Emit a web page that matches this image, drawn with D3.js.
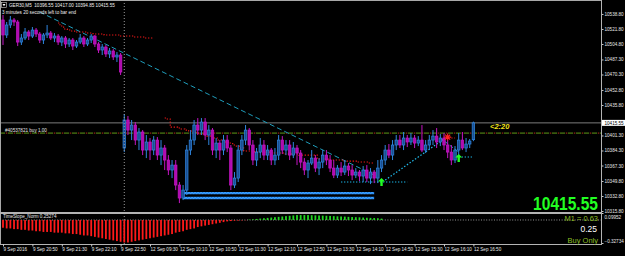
<!DOCTYPE html>
<html>
<head>
<meta charset="utf-8">
<script src="https://cdn.jsdelivr.net/npm/d3@7"></script>
<style>
  html, body { margin: 0; padding: 0; background: #000; }
  svg { display: block; font-family: "Liberation Sans", Arial, sans-serif; }
</style>
</head>
<body>
<svg id="chart" width="625" height="256"></svg>
<script>
// GER30 M5 - candles, stops, trend lines and a slope histogram below
const titleText = "GER30,M5  10396.55 10417.00 10394.85 10415.55";
const timerText = "3 minutes 20 seconds left to bar end";
const indicatorName = "TimeSlope_Norm 0.25274";
const orderLabel = "#40537821 buy 1.00";

// [open, high, low, close]
const bars = [
  [10532.0,10537.6,10503.7,10515.0],[10515.0,10529.7,10511.6,10526.3],[10526.3,10536.5,10522.9,10532.0],
  [10532.0,10534.2,10525.2,10529.7],[10529.7,10532.0,10502.5,10507.0],[10507.0,10516.1,10503.7,10511.6],
  [10511.6,10522.9,10509.3,10518.4],[10518.4,10520.6,10509.3,10513.8],[10513.8,10524.0,10511.6,10520.6],
  [10520.6,10522.9,10512.7,10516.1],[10516.1,10518.4,10505.9,10509.3],[10509.3,10517.2,10504.8,10515.0],
  [10515.0,10526.3,10511.6,10517.2],[10517.2,10519.5,10509.3,10511.6],[10511.6,10517.2,10507.0,10513.8],
  [10513.8,10516.1,10503.7,10507.0],[10507.0,10513.8,10502.5,10511.6],[10511.6,10513.8,10500.3,10504.8],
  [10504.8,10511.6,10501.4,10509.3],[10509.3,10511.6,10498.0,10502.5],[10502.5,10509.3,10500.3,10507.0],
  [10507.0,10516.1,10504.8,10511.6],[10511.6,10513.8,10501.4,10504.8],[10504.8,10511.6,10502.5,10509.3],
  [10509.3,10516.1,10505.9,10513.8],[10513.8,10515.0,10501.4,10504.8],[10504.8,10507.0,10494.6,10498.0],
  [10498.0,10504.8,10492.3,10501.4],[10501.4,10503.7,10490.1,10493.5],[10493.5,10500.3,10488.9,10496.9],
  [10496.9,10499.1,10486.7,10490.1],[10490.1,10495.7,10484.4,10492.3],[10492.3,10494.6,10469.7,10473.1],
  [10387.1,10425.6,10382.5,10418.8],[10418.8,10423.3,10401.8,10407.4],[10407.4,10418.8,10396.1,10413.1],
  [10413.1,10416.5,10390.5,10396.1],[10396.1,10409.7,10384.8,10405.2],[10405.2,10407.4,10379.1,10384.8],
  [10384.8,10401.8,10375.7,10393.9],[10393.9,10398.4,10373.5,10384.8],[10384.8,10400.6,10379.1,10396.1],
  [10396.1,10399.5,10373.5,10379.1],[10379.1,10396.1,10367.8,10387.1],[10387.1,10390.5,10362.2,10373.5],
  [10373.5,10379.1,10356.5,10362.2],[10362.2,10373.5,10353.1,10367.8],[10367.8,10373.5,10339.5,10345.2],
  [10345.2,10348.6,10324.8,10330.5],[10330.5,10345.2,10328.2,10339.5],[10339.5,10390.5,10333.9,10384.8],
  [10384.8,10407.4,10379.1,10396.1],[10396.1,10418.8,10390.5,10413.1],[10413.1,10421.0,10401.8,10407.4],
  [10407.4,10421.0,10401.8,10416.5],[10416.5,10421.0,10396.1,10401.8],[10401.8,10413.1,10390.5,10407.4],
  [10407.4,10409.7,10379.1,10384.8],[10384.8,10398.4,10375.7,10392.7],[10392.7,10396.1,10373.5,10384.8],
  [10384.8,10401.8,10379.1,10396.1],[10396.1,10401.8,10382.5,10387.1],[10387.1,10390.5,10339.5,10345.2],
  [10345.2,10359.9,10341.8,10353.1],[10353.1,10390.5,10348.6,10384.8],[10384.8,10401.8,10379.1,10396.1],
  [10396.1,10413.1,10390.5,10407.4],[10407.4,10409.7,10384.8,10390.5],[10390.5,10396.1,10367.8,10373.5],
  [10373.5,10387.1,10366.7,10382.5],[10382.5,10398.4,10375.7,10390.5],[10390.5,10396.1,10373.5,10379.1],
  [10379.1,10390.5,10373.5,10384.8],[10384.8,10387.1,10367.8,10373.5],[10373.5,10387.1,10367.8,10379.1],
  [10379.1,10401.8,10373.5,10396.1],[10396.1,10400.6,10380.3,10384.8],[10384.8,10396.1,10379.1,10390.5],
  [10390.5,10396.1,10373.5,10379.1],[10379.1,10393.9,10375.7,10387.1],[10387.1,10390.5,10367.8,10381.4],
  [10381.4,10384.8,10364.4,10371.2],[10371.2,10375.7,10356.5,10362.2],[10362.2,10373.5,10353.1,10370.1],
  [10370.1,10384.8,10367.8,10375.7],[10375.7,10379.1,10359.9,10364.4],[10364.4,10375.7,10356.5,10371.2],
  [10371.2,10384.8,10364.4,10379.1],[10379.1,10384.8,10367.8,10373.5],[10373.5,10379.1,10359.9,10364.4],
  [10364.4,10373.5,10353.1,10356.5],[10356.5,10367.8,10353.1,10364.4],[10364.4,10371.2,10355.4,10359.9],
  [10359.9,10373.5,10356.5,10366.7],[10366.7,10370.1,10355.4,10362.2],[10362.2,10367.8,10350.8,10356.5],
  [10356.5,10364.4,10353.1,10359.9],[10359.9,10362.2,10349.7,10355.4],[10355.4,10366.7,10348.6,10362.2],
  [10362.2,10367.8,10348.6,10353.1],[10353.1,10364.4,10346.3,10359.9],[10359.9,10362.2,10347.4,10353.1],
  [10353.1,10373.5,10347.4,10364.4],[10364.4,10379.1,10359.9,10373.5],[10373.5,10390.5,10367.8,10384.8],
  [10384.8,10391.6,10375.7,10379.1],[10379.1,10396.1,10373.5,10390.5],[10390.5,10401.8,10384.8,10396.1],
  [10396.1,10401.8,10387.1,10390.5],[10390.5,10405.2,10384.8,10398.4],[10398.4,10401.8,10388.2,10393.9],
  [10393.9,10404.0,10390.5,10398.4],[10398.4,10401.8,10387.1,10392.7],[10392.7,10400.6,10389.3,10396.1],
  [10396.1,10413.1,10382.5,10384.8],[10384.8,10396.1,10381.4,10390.5],[10390.5,10401.8,10384.8,10396.1],
  [10396.1,10407.4,10390.5,10400.6],[10400.6,10409.7,10387.1,10393.9],[10393.9,10402.9,10389.3,10398.4],
  [10398.4,10404.0,10384.8,10390.5],[10390.5,10396.1,10375.7,10382.5],[10382.5,10390.5,10367.8,10373.5],
  [10373.5,10389.3,10370.1,10384.8],[10384.8,10404.0,10375.7,10396.1],[10396.1,10405.2,10384.8,10387.1],
  [10387.1,10398.4,10382.5,10391.6],[10391.6,10397.3,10387.1,10395.0],[10396.55,10417.00,10394.85,10415.55]
];

const timeLabels = ["9 Sep 2016","9 Sep 20:50","9 Sep 21:30","9 Sep 22:10","9 Sep 22:50",
  "12 Sep 09:30","12 Sep 10:10","12 Sep 10:50","12 Sep 11:30","12 Sep 12:10","12 Sep 12:50",
  "12 Sep 13:30","12 Sep 14:10","12 Sep 14:50","12 Sep 15:30","12 Sep 16:10","12 Sep 16:50"];
const timeLabelBars = [0,8,16,24,32,40,48,56,64,72,80,88,96,104,112,120,128];
const daySeparatorBar = 33;

// 10418.80 sits under the bid label box and is not visible
const priceTicks = [10538.80,10521.80,10504.80,10487.30,10470.30,10452.80,10435.80,
  10401.30,10384.30,10367.30,10349.80,10332.80,10315.80];
const bidPrice = 10415.55;
const orderPrice = 10404.0;

// trailing stops: first bar + one value per bar
const redStopUpper = { start: 15, values: [10528.6,10525.2,10521.8,10520.6,10519.5,10518.4,10518.4,10518.4,
  10517.2,10517.2,10516.1,10516.1,10516.1,10515.0,10515.0,10515.0,10515.0,10513.8,10513.8,10513.8,10513.8,
  10512.7,10512.7,10512.7,10511.6,10511.6,10511.6] };
const redStopLower = { start: 44, values: [10421.0,10419.9,10410.8,10410.8,10409.7,10408.6,10407.4,10406.3,
  10405.2,10404.0,10402.9,10401.8,10400.6,10399.5,10398.4,10396.1,10395.0,10393.9,10392.7,10390.5,10389.3,
  10387.1,10383.7,10383.7,10383.7,10382.5,10382.5,10382.5,10382.5,10381.4,10381.4,10381.4,10381.4,
  10380.3,10380.3,10380.3,10380.3,10379.1,10379.1,10379.1,10379.1,10379.1,10374.6,10374.6,10374.6,
  10373.5,10373.5,10373.5,10373.5,10372.3,10372.3,10372.3,10372.3,10371.2,10371.2,10371.2,10370.1,10370.1] };
const redStopTail = { start: 122, values: [10398.4,10398.4] };
const blueStopA = { start: 92, values: [10348.6,10348.6,10348.6,10348.6,10348.6,10348.6,10348.6,10348.6,
  10348.6,10348.6,10348.6,10348.6,10348.6,10348.6,10348.6,10348.6,10348.6,10348.6,10348.6] };
const blueStopB = { start: 124, values: [10376.9,10376.9,10376.9,10376.9,10376.9] };

// trend lines: [[bar, price], [bar, price]]
const longTrend = [[10, 10541.0], [101, 10356.5]];
const riseTrend = [[104, 10350.8], [120, 10397.3]];
const dropTrend = [[119, 10398.4], [124, 10382.5]];
const supportLevels = [10336.1, 10330.5];
const supportBars = [49, 101];

const buyArrows = [[103, 10348.6], [124, 10375.7]];
const crossMarks = [[121, 10399.5]];

const slopeValues = [
  -0.11,-0.12,-0.12,-0.13,-0.13,-0.14,-0.14,-0.15,-0.15,-0.16,
  -0.16,-0.17,-0.17,-0.17,-0.18,-0.18,-0.18,-0.19,-0.19,-0.20,
  -0.20,-0.21,-0.22,-0.22,-0.23,-0.24,-0.25,-0.26,-0.27,-0.28,
  -0.29,-0.30,-0.31,-0.32,-0.32,-0.31,-0.30,-0.29,-0.28,-0.27,
  -0.26,-0.25,-0.24,-0.23,-0.22,-0.21,-0.20,-0.18,-0.17,-0.16,
  -0.14,-0.13,-0.12,-0.10,-0.09,-0.08,-0.07,-0.06,-0.05,-0.04,
  -0.03,-0.02,-0.015,-0.01,-0.008,-0.005,-0.003,0,0,0,
  0,0,0,0,0,0,0,0,0,0,
  0,0,0,0,0,0,0,0.005,0.01,0.015,
  0.02,0.025,0.03,0.035,0.04,0.045,0.05,0.055,0.06,0.065,
  0.07,0.07,0.07,0.07,0.068,0.066,0.064,0.062,0.06,0.058,
  0.055,0.052,0.05,0.048,0.045,0.042,0.04,0.038,0.035,0.032,
  0.03,0.028,0.025,0.02,0,0,0,0,0
];
const slopeTicks = [0.09952, -0.32734];

const bigPrice = "10415.55";
const m1Text = "M1 = 0.63";
const slopeText = "0.25";
const modeText = "Buy Only";
const countdown = "<2:20";

const svg = d3.select("#chart");
const W = 625, H = 256;
const plotRight = 601, mainBottom = 212, indTopY = 213, indBottom = 243, axisY = 244;

const x = d3.scaleLinear().domain([0, 128]).range([3, 473.4]);
const y = d3.scaleLinear().domain([10314.7, 10554.6]).range([mainBottom, 0]);
const yi = d3.scaleLinear().domain([-0.32734, 0.09952]).range([indBottom, indTopY]);

svg.append("rect").attr("width", W).attr("height", H).attr("fill", "#000");

const defs = svg.append("defs");
defs.append("clipPath").attr("id", "mainClip")
  .append("rect").attr("x", 0).attr("y", 0).attr("width", plotRight).attr("height", mainBottom);

const main = svg.append("g").attr("clip-path", "url(#mainClip)");

// period separator
svg.append("line")
  .attr("x1", x(daySeparatorBar)).attr("x2", x(daySeparatorBar))
  .attr("y1", 0).attr("y2", axisY)
  .attr("stroke", "#9a9a9a").attr("stroke-dasharray", "1,2");

// bid line and order line
main.append("line").attr("x1", 0).attr("x2", plotRight)
  .attr("y1", y(bidPrice)).attr("y2", y(bidPrice))
  .attr("stroke", "#7c7c7c");
main.append("line").attr("x1", 0).attr("x2", plotRight)
  .attr("y1", y(orderPrice)).attr("y2", y(orderPrice))
  .attr("stroke", "#5f9a18").attr("stroke-dasharray", "5,3");
main.append("line").attr("x1", 0).attr("x2", plotRight)
  .attr("y1", y(orderPrice)).attr("y2", y(orderPrice))
  .attr("stroke", "#b8301c").attr("stroke-dasharray", "1.5,6.5").attr("stroke-dashoffset", -5.8);
main.append("text").attr("x", 5).attr("y", y(orderPrice) - 1.2)
  .attr("fill", "#e6e6e6").attr("font-size", 4.6).text(orderLabel);

// trend lines
const trendLine = d3.line().x(d => x(d[0])).y(d => y(d[1]));
main.append("path").attr("d", trendLine(longTrend))
  .attr("fill", "none").attr("stroke", "#1f9dbb").attr("stroke-dasharray", "5,3");
main.append("path").attr("d", trendLine(riseTrend))
  .attr("fill", "none").attr("stroke", "#20b8e8").attr("stroke-width", 1.2).attr("stroke-dasharray", "1.5,1.8");
main.append("path").attr("d", trendLine(dropTrend))
  .attr("fill", "none").attr("stroke", "#1f9dbb").attr("stroke-dasharray", "4,2");

// support zig-zag bands
supportLevels.forEach(p => {
  const yy = y(p), x0 = x(supportBars[0]), x1 = x(supportBars[1]);
  const pts = [];
  for (let xx = x0, k = 0; xx <= x1; xx += 1.5, k++) pts.push([xx, yy + (k % 2 ? 1 : -1)]);
  main.append("line").attr("x1", x0).attr("x2", x1).attr("y1", yy).attr("y2", yy)
    .attr("stroke", "#1e7fe8").attr("stroke-width", 2.4);
  main.append("path").attr("d", d3.line()(pts))
    .attr("fill", "none").attr("stroke", "#46a8ff").attr("stroke-width", 0.9);
});

// trailing stops
const stopLine = d3.line().x(d => x(d[0])).y(d => y(d[1])).curve(d3.curveStep);
function drawStop(s, color) {
  const pts = s.values.map((v, k) => [s.start + k, v]);
  main.append("path").attr("d", stopLine(pts))
    .attr("fill", "none").attr("stroke", color).attr("stroke-width", 1.1)
    .attr("stroke-dasharray", "1.2,1.8");
}
drawStop(redStopUpper, "#ff1a1a");
drawStop(redStopLower, "#ff1a1a");
drawStop(redStopTail, "#ff1a1a");
drawStop(blueStopA, "#1ec8ff");
drawStop(blueStopB, "#1ec8ff");

// candles
const bodyW = 2.5;
const candle = main.append("g").selectAll("g").data(bars).join("g");
candle.append("line")
  .attr("x1", (d, i) => x(i)).attr("x2", (d, i) => x(i))
  .attr("y1", d => y(d[1])).attr("y2", d => y(d[2]))
  .attr("stroke", d => d[3] >= d[0] ? "#2f86e0" : "#c414c4");
candle.append("rect")
  .attr("x", (d, i) => x(i) - bodyW / 2)
  .attr("y", d => y(Math.max(d[0], d[3])))
  .attr("width", bodyW)
  .attr("height", d => Math.max(0.8, Math.abs(y(d[0]) - y(d[3]))))
  .attr("fill", d => d[3] >= d[0] ? "#1a4f92" : "#b00cb0")
  .attr("stroke", d => d[3] >= d[0] ? "#2f86e0" : "#c414c4")
  .attr("stroke-width", 0.7);

// signal arrows and crosses
main.selectAll(".arrow").data(buyArrows).join("path")
  .attr("transform", d => `translate(${x(d[0])},${y(d[1])})`)
  .attr("d", "M0,-4 L3.5,-0.5 L1.2,-0.5 L1.2,4 L-1.2,4 L-1.2,-0.5 L-3.5,-0.5 Z")
  .attr("fill", "#22ff22");
main.selectAll(".cross").data(crossMarks).join("path")
  .attr("transform", d => `translate(${x(d[0])},${y(d[1])})`)
  .attr("d", "M-3.5,0 L3.5,0 M0,-3.5 L0,3.5 M-2.5,-2.5 L2.5,2.5 M-2.5,2.5 L2.5,-2.5")
  .attr("stroke", "#ff2020").attr("stroke-width", 1.2);

main.append("text").attr("x", 490).attr("y", y(bidPrice) + 6.5)
  .attr("fill", "#f2e21a").attr("font-size", 7.5).attr("font-weight", "bold")
  .attr("font-style", "italic").text(countdown);

// header texts
svg.append("rect").attr("x", 1.5).attr("y", 2.5).attr("width", 5).attr("height", 5)
  .attr("fill", "none").attr("stroke", "#cfcfcf").attr("stroke-width", 0.6);
svg.append("path").attr("d", "M2.5,4 L5.5,4 L4,6.3 Z").attr("fill", "#ffffff");
svg.append("text").attr("x", 9).attr("y", 7.3).attr("fill", "#f0f0f0")
  .attr("font-size", 4.6).attr("xml:space", "preserve").text(titleText);
svg.append("text").attr("x", 2).attr("y", 14).attr("fill", "#f0f0f0")
  .attr("font-size", 4.6).text(timerText);

// indicator window
const ind = svg.append("g");
ind.append("line").attr("x1", 0).attr("x2", plotRight).attr("y1", yi(0)).attr("y2", yi(0))
  .attr("stroke", "#bdbdbd").attr("stroke-width", 0.8).attr("stroke-dasharray", "1,1.6");
ind.selectAll("rect").data(slopeValues).join("rect")
  .filter(d => d !== 0)
  .attr("x", (d, i) => x(i) - 0.9)
  .attr("width", 1.8)
  .attr("y", d => Math.min(yi(0), yi(d)))
  .attr("height", d => Math.abs(yi(d) - yi(0)))
  .attr("fill", d => d < 0 ? "#ff1a1a" : "#22d422");
ind.append("text").attr("x", 3).attr("y", 218).attr("fill", "#e6e6e6")
  .attr("font-size", 4.6).text(indicatorName);

// frame and separators
svg.append("line").attr("x1", 0).attr("x2", plotRight).attr("y1", 0.5).attr("y2", 0.5).attr("stroke", "#a8a8a8");
svg.append("line").attr("x1", 0.5).attr("x2", 0.5).attr("y1", 0).attr("y2", axisY).attr("stroke", "#a8a8a8");
svg.append("line").attr("x1", 0).attr("x2", plotRight).attr("y1", 213).attr("y2", 213)
  .attr("stroke", "#b4b4b4").attr("stroke-width", 2);

// right price axis
const yAxis = svg.append("g").attr("transform", `translate(${plotRight},0)`)
  .call(d3.axisRight(y).tickValues(priceTicks).tickSize(2.5).tickFormat(d3.format(".2f")));
yAxis.select(".domain").remove();
yAxis.selectAll("line").attr("stroke", "#c8c8c8");
yAxis.selectAll("text").attr("fill", "#e8e8e8").attr("font-size", 4.6).attr("x", 3.5)
  .attr("font-family", "Liberation Sans, Arial, sans-serif");

const iAxis = svg.append("g").attr("transform", `translate(${plotRight},0)`)
  .call(d3.axisRight(yi).tickValues(slopeTicks).tickSize(2.5).tickFormat(d3.format(".5f")));
iAxis.select(".domain").remove();
iAxis.selectAll("line").attr("stroke", "#c8c8c8");
iAxis.selectAll("text").attr("fill", "#e8e8e8").attr("font-size", 4.6).attr("x", 3.5)
  .attr("dy", (d, i) => i === 0 ? "1.2em" : "-0.1em")
  .attr("font-family", "Liberation Sans, Arial, sans-serif");

svg.append("line").attr("x1", plotRight + 0.5).attr("x2", plotRight + 0.5)
  .attr("y1", 0).attr("y2", axisY).attr("stroke", "#b4b4b4");

// bid label on axis
svg.append("rect").attr("x", plotRight + 1).attr("y", y(bidPrice) - 3).attr("width", 23).attr("height", 6)
  .attr("fill", "#ffffff");
svg.append("text").attr("x", plotRight + 3.5).attr("y", y(bidPrice) + 1.7)
  .attr("fill", "#000").attr("font-size", 4.6).text(bidPrice.toFixed(2));

// bottom time axis
svg.append("line").attr("x1", 0).attr("x2", plotRight + 1).attr("y1", axisY + 0.5).attr("y2", axisY + 0.5)
  .attr("stroke", "#b4b4b4");
const xAxis = svg.append("g").attr("transform", `translate(0,${axisY})`)
  .call(d3.axisBottom(x).tickValues(timeLabelBars).tickSize(2.5).tickFormat((d, i) => timeLabels[i]));
xAxis.select(".domain").remove();
xAxis.selectAll("line").attr("stroke", "#c8c8c8");
xAxis.selectAll("text").attr("fill", "#e8e8e8").attr("font-size", 4.6)
  .attr("text-anchor", "start").attr("dx", 0).attr("y", 4)
  .attr("font-family", "Liberation Sans, Arial, sans-serif");

// right-hand status texts
svg.append("text").attr("transform", "translate(598,210) scale(0.82,1)").attr("text-anchor", "end")
  .attr("fill", "#22ff22").attr("font-size", 19).attr("font-weight", "bold").text(bigPrice);
svg.append("text").attr("x", 598).attr("y", 220.5).attr("text-anchor", "end")
  .attr("fill", "#8cbf26").attr("font-size", 7.5).text(m1Text);
svg.append("text").attr("x", 597).attr("y", 232).attr("text-anchor", "end")
  .attr("fill", "#ffffff").attr("font-size", 8.5).text(slopeText);
svg.append("text").attr("x", 598).attr("y", 242.5).attr("text-anchor", "end")
  .attr("fill", "#8cbf26").attr("font-size", 7.5).text(modeText);
</script>
</body>
</html>
